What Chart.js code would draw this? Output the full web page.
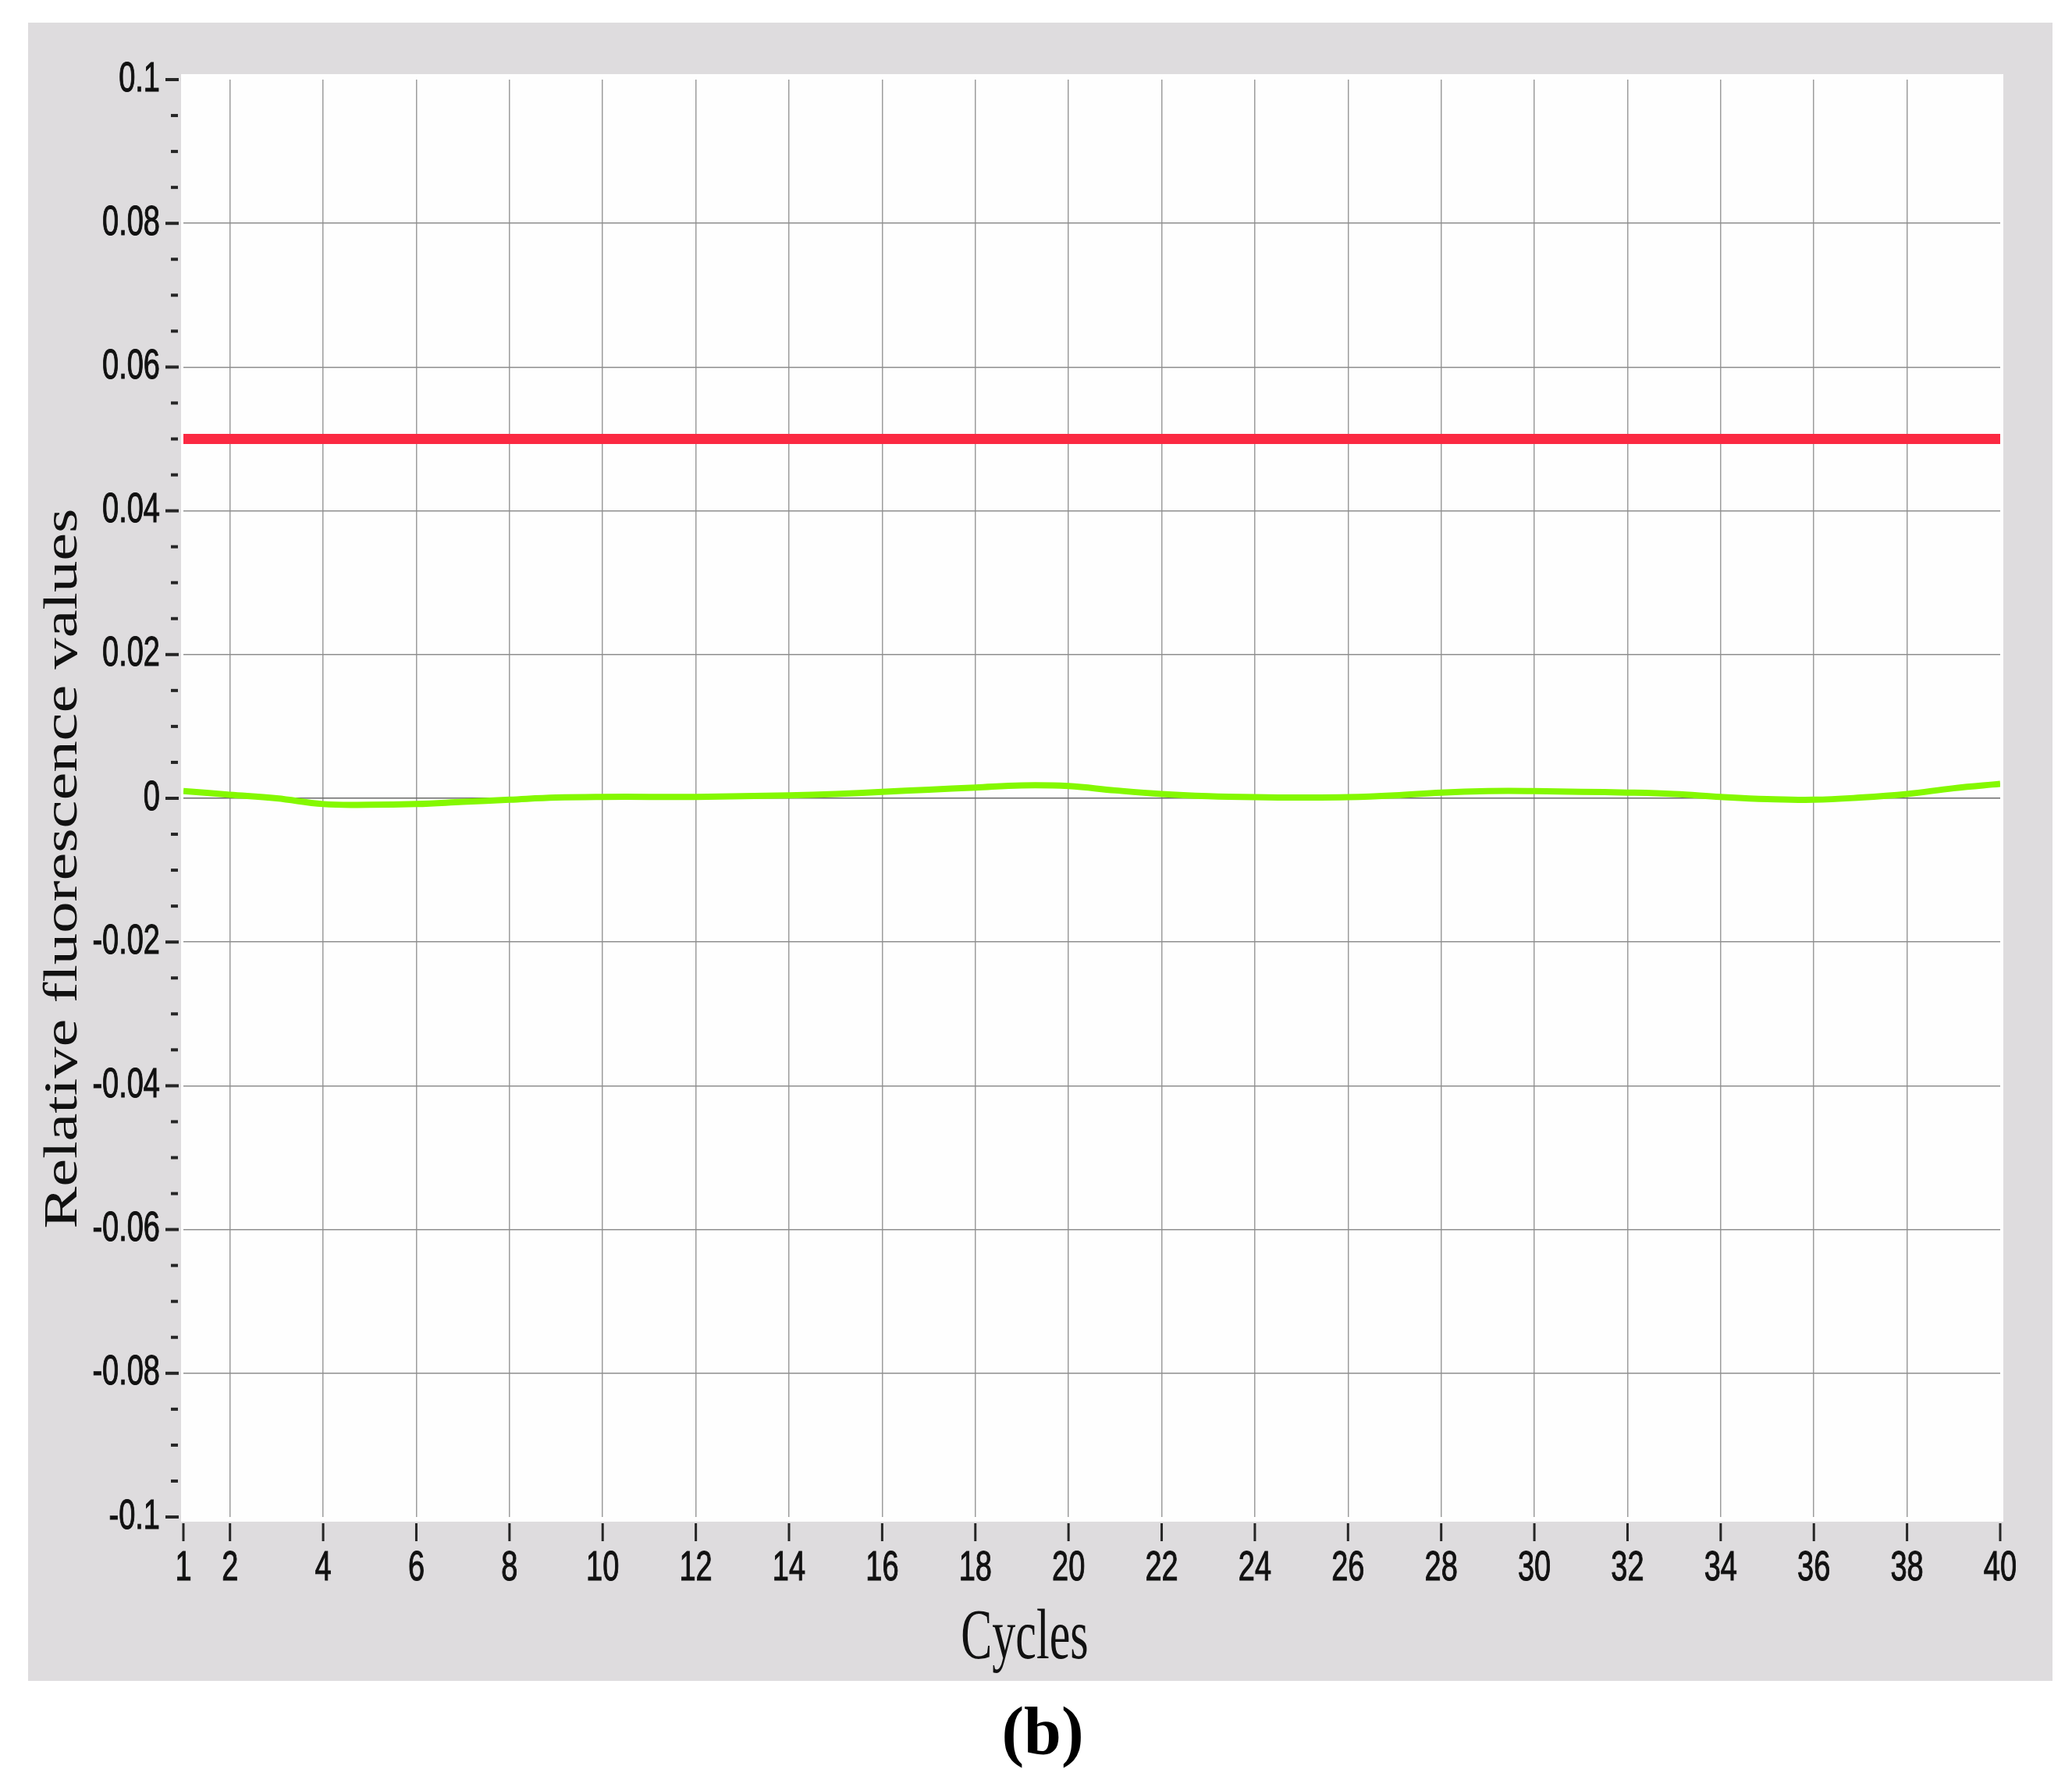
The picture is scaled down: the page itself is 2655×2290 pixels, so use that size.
<!DOCTYPE html>
<html>
<head>
<meta charset="utf-8">
<title>Relative fluorescence values</title>
<script src="https://cdn.jsdelivr.net/npm/chart.js@4.4.1/dist/chart.umd.min.js"></script>
<style>
    html, body { margin: 0; padding: 0; background: #ffffff; }
    #rfChart { display: block; }
</style>
</head>
<body>
<canvas id="rfChart" width="2655" height="2290" style="width:2655px;height:2290px"></canvas>
<script>
// values
const cycles = [1, 2, 3, 4, 5, 6, 7, 8, 9, 10, 11, 12, 13, 14, 15, 16, 17, 18, 19, 20,
    21, 22, 23, 24, 25, 26, 27, 28, 29, 30, 31, 32, 33, 34, 35, 36, 37, 38, 39, 40];
const sampleValues = [0.0010, 0.0005, 0.0000, -0.0008, -0.0009, -0.0008, -0.0005, -0.0002, 0.0001, 0.0002,
    0.0002, 0.0002, 0.0003, 0.0004, 0.0006, 0.0009, 0.0012, 0.0015, 0.0018, 0.0017,
    0.0011, 0.0006, 0.0003, 0.00015, 0.0001, 0.00015, 0.0004, 0.0008, 0.0010, 0.0010,
    0.0009, 0.0008, 0.0006, 0.0002, -0.0001, -0.0002, 0.0001, 0.0006, 0.0014, 0.0020];
const thresholdCycles = [1, 40];
const thresholdValues = [0.05, 0.05];

const xTicks = [1, 2, 4, 6, 8, 10, 12, 14, 16, 18, 20, 22, 24, 26, 28, 30, 32, 34, 36, 38, 40];
const xTickLabels = ['1', '2', '4', '6', '8', '10', '12', '14', '16', '18', '20',
    '22', '24', '26', '28', '30', '32', '34', '36', '38', '40'];
const yTicks = [-0.1, -0.08, -0.06, -0.04, -0.02, 0, 0.02, 0.04, 0.06, 0.08, 0.1];
const yTickLabels = ['-0.1', '-0.08', '-0.06', '-0.04', '-0.02', '0', '0.02', '0.04', '0.06', '0.08', '0.1'];
const yMinorStep = 0.005;

const xTitle = 'Cycles';
const yTitle = 'Relative fluorescence values';
const panelLabel = '(b)';

const tickFont = '38px "Liberation Sans", Arial, sans-serif';
const stretch = 1.4;

function toPoints(xs, ys) {
    return xs.map((x, i) => ({ x: x, y: ys[i] }));
}

// gray panel, white plot, tick marks and all the stretched texts
const decorPlugin = {
    id: 'decor',
    beforeDraw: function (chart) {
        let ctx = chart.ctx;
        let a = chart.chartArea;
        ctx.save();
        ctx.fillStyle = '#ffffff';
        ctx.fillRect(0, 0, chart.width, chart.height);
        ctx.fillStyle = '#dedcde';
        ctx.fillRect(36, 29, 2594, 2125);
        ctx.fillStyle = '#fefefe';
        ctx.fillRect(a.left - 3, a.top - 7, a.width + 7, a.height + 13);
        ctx.restore();
    },
    afterDraw: function (chart) {
        let ctx = chart.ctx;
        let a = chart.chartArea;
        let xs = chart.scales.x;
        let ys = chart.scales.y;
        ctx.save();
        ctx.fillStyle = '#111111';
        ctx.strokeStyle = '#262626';

        // y ticks: majors + 3 minors in between
        ctx.lineWidth = 4;
        yTicks.forEach((v, i) => {
            let py = ys.getPixelForValue(v);
            ctx.beginPath();
            ctx.moveTo(a.left - 23, py);
            ctx.lineTo(a.left - 6, py);
            ctx.stroke();
            if (i < yTicks.length - 1) {
                for (let k = 1; k < 4; k++) {
                    let my = ys.getPixelForValue(v + k * yMinorStep);
                    ctx.beginPath();
                    ctx.moveTo(a.left - 16, my);
                    ctx.lineTo(a.left - 7, my);
                    ctx.stroke();
                }
            }
        });

        // x ticks
        ctx.lineWidth = 3;
        xTicks.forEach((v) => {
            let px = xs.getPixelForValue(v);
            ctx.beginPath();
            ctx.moveTo(px, a.bottom + 8);
            ctx.lineTo(px, a.bottom + 31);
            ctx.stroke();
        });

        // tick labels
        ctx.font = tickFont;
        ctx.textBaseline = 'middle';
        ctx.textAlign = 'right';
        ctx.lineWidth = 0.8;
        ctx.strokeStyle = '#111111';
        yTicks.forEach((v, i) => {
            ctx.save();
            ctx.translate(a.left - 30, ys.getPixelForValue(v));
            ctx.scale(1, stretch);
            ctx.fillText(yTickLabels[i], 0, 0);
            ctx.strokeText(yTickLabels[i], 0, 0);
            ctx.restore();
        });
        ctx.textAlign = 'center';
        xTicks.forEach((v, i) => {
            ctx.save();
            ctx.translate(xs.getPixelForValue(v), a.bottom + 66);
            ctx.scale(1, stretch);
            ctx.fillText(xTickLabels[i], 0, 0);
            ctx.strokeText(xTickLabels[i], 0, 0);
            ctx.restore();
        });

        // axis titles
        ctx.textBaseline = 'alphabetic';
        ctx.font = '60px "Liberation Serif", "Times New Roman", serif';
        ctx.save();
        ctx.translate(1313, 2125);
        ctx.scale(1, 1.5);
        ctx.fillText(xTitle, 0, 0);
        ctx.restore();

        ctx.font = '62px "Liberation Serif", "Times New Roman", serif';
        let w = ctx.measureText(yTitle).width;
        ctx.save();
        ctx.translate(98, 1113);
        ctx.rotate(-Math.PI / 2);
        ctx.scale(923 / w, 1);
        ctx.fillText(yTitle, 0, 0);
        ctx.restore();

        ctx.font = 'bold 86px "Liberation Serif", "Times New Roman", serif';
        ctx.fillStyle = '#000000';
        ctx.fillText(panelLabel, 1336, 2247);
        ctx.restore();
    }
};

function gridColor(edgeColor, normal, zero) {
    return function (c) {
        let v = c.tick ? c.tick.value : null;
        if (c.index === 0 || v === null) return edgeColor;
        if (c.index === c.chart.scales[c.scale.id].ticks.length - 1) return edgeColor;
        if (zero && v === 0) return zero;
        return normal;
    };
}

window.onload = function () {
    let ctx = document.getElementById('rfChart').getContext('2d');
    window.rfChart = new Chart(ctx, {
        type: 'line',
        data: {
            datasets: [{
                label: 'Threshold',
                data: toPoints(thresholdCycles, thresholdValues),
                borderColor: '#fb2942',
                borderWidth: 13,
                pointRadius: 0,
                tension: 0
            }, {
                label: 'Sample',
                data: toPoints(cycles, sampleValues),
                borderColor: '#84f800',
                borderWidth: 8,
                pointRadius: 0,
                tension: 0.4
            }]
        },
        options: {
            responsive: false,
            animation: false,
            devicePixelRatio: 1,
            layout: { padding: { left: 235, top: 102, right: 92, bottom: 346 } },
            plugins: {
                legend: { display: false },
                tooltip: { enabled: false }
            },
            scales: {
                x: {
                    type: 'linear',
                    min: 1,
                    max: 40,
                    afterBuildTicks: function (axis) {
                        axis.ticks = xTicks.map((v) => ({ value: v }));
                    },
                    ticks: { display: false },
                    border: { display: false },
                    grid: {
                        drawTicks: false,
                        lineWidth: 1.5,
                        color: gridColor('rgba(0,0,0,0)', '#9c9c9c', null)
                    }
                },
                y: {
                    type: 'linear',
                    min: -0.1,
                    max: 0.1,
                    afterBuildTicks: function (axis) {
                        axis.ticks = yTicks.map((v) => ({ value: v }));
                    },
                    ticks: { display: false },
                    border: { display: false },
                    grid: {
                        drawTicks: false,
                        lineWidth: 1.5,
                        color: gridColor('rgba(0,0,0,0)', '#8e8e8e', '#6a6a6a')
                    }
                }
            }
        },
        plugins: [decorPlugin]
    });
};
</script>
</body>
</html>
